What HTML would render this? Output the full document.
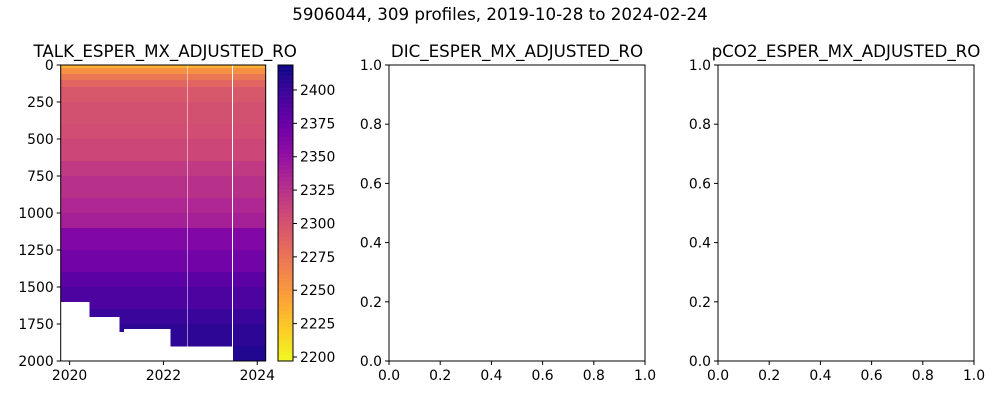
<!DOCTYPE html>
<html><head><meta charset="utf-8"><style>
body{margin:0;background:#fff;font-family:"Liberation Sans","DejaVu Sans",sans-serif}
svg text{font-family:"DejaVu Sans","Liberation Sans",sans-serif}
</style></head><body>
<svg id="fig" width="1000" height="400" xmlns="http://www.w3.org/2000/svg">
<rect width="1000" height="400" fill="#fff"/>
<text x="500" y="20" font-size="16.7" text-anchor="middle">5906044, 309 profiles, 2019-10-28 to 2024-02-24</text>
<g id="p1"></g>
<g id="cb"></g>
<g id="p2"></g>
<g id="p3"></g>
</svg>
<script>
// depth levels (m) and TALK values
const depths=[0,20,60,100,150,250,400,500,650,750,900,1000,1100,1250,1400,1500,1650,1750,1900,2000];
const talk=[2235,2255,2272,2285,2295,2300,2303,2308,2318,2325,2332,2338,2360,2370,2382,2390,2400,2405,2410,2412];
// profile segments: start year, end year, bottom depth
const segStart=[2019.81,2020.42,2021.06,2021.15,2022.15,2022.515,2023.48];
const segEnd=[2020.42,2021.06,2021.15,2022.15,2022.49,2023.45,2024.18];
const segBottom=[1600,1700,1800,1780,1900,1900,2000];
const xTicks=[2020,2022,2024];
const yTicks=[0,250,500,750,1000,1250,1500,1750,2000];
const cbTicks=[2200,2225,2250,2275,2300,2325,2350,2375,2400];
const unitTicks=[0,0.2,0.4,0.6,0.8,1.0];

const NS="http://www.w3.org/2000/svg";
function mk(p,t,a,txt){const e=document.createElementNS(NS,t);for(const k in a)e.setAttribute(k,a[k]);if(txt!==undefined)e.textContent=txt;p.appendChild(e);return e;}
const plasma=["#0d0887","#41049d","#6a00a8","#8f0da4","#b12a90","#cc4778","#e16462","#f2844b","#fca636","#fcce25","#f0f921"];
function hex(h){return [1,3,5].map(i=>parseInt(h.substr(i,2),16));}
function cmap(v){const vmin=2197,vmax=2418.7;let t=1-(v-vmin)/(vmax-vmin);t=Math.max(0,Math.min(1,t));const f=t*10,i=Math.min(9,Math.floor(f)),r=f-i;const a=hex(plasma[i]),b=hex(plasma[i+1]);return `rgb(${a.map((c,k)=>Math.round(c+(b[k]-c)*r)).join(",")})`;}
const X0=60.7,X1=265.7,Y0=65,Y1=361;
const xs=y=>X0+(y-2019.81)*(X1-X0)/(2024.18-2019.81);
const ys=d=>Y0+d*(Y1-Y0)/2000;
const FS=13.9;

const p1=document.getElementById('p1');
segStart.forEach((s,i)=>{
  for(let k=0;k<depths.length-1;k++){
    if(depths[k]>=segBottom[i])break;
    const d1=Math.min(depths[k+1],segBottom[i]);
    const r=mk(p1,'rect',{x:xs(s),y:ys(depths[k]),width:Math.max(0.5,xs(segEnd[i])-xs(s)+0.4),height:ys(d1)-ys(depths[k])+0.4,fill:cmap(talk[k]),'shape-rendering':'crispEdges'});
    
    
  }
});
mk(p1,'rect',{x:X0,y:Y0,width:X1-X0,height:Y1-Y0,fill:'none',stroke:'#000','stroke-width':1});
mk(p1,'text',{x:(X0+X1)/2+2,y:57,'font-size':16.7,'text-anchor':'middle'},'TALK_ESPER_MX_ADJUSTED_RO');
xTicks.forEach(t=>{const x=xs(t);mk(p1,'line',{x1:x,x2:x,y1:Y1,y2:Y1+4,stroke:'#000'});const e=mk(p1,'text',{x:x,y:Y1+19,'font-size':FS,'text-anchor':'middle'},t);});
yTicks.forEach(t=>{const y=ys(t);mk(p1,'line',{x1:X0-4,x2:X0,y1:y,y2:y,stroke:'#000'});const e=mk(p1,'text',{x:X0-7,y:y+5,'font-size':FS,'text-anchor':'end'},t);});

// colorbar
const cb=document.getElementById('cb');
const CX=278,CW=15,cv=v=>Y1-(v-2197)*(Y1-Y0)/(2418.7-2197);
for(let v=2197;v<2418.7;v+=1){mk(cb,'rect',{x:CX,y:cv(v+1),width:CW,height:cv(v)-cv(v+1)+0.3,fill:cmap(v)});}
mk(cb,'rect',{x:CX,y:Y0,width:CW,height:Y1-Y0,fill:'none',stroke:'#000'});
cbTicks.forEach(t=>{const y=cv(t);mk(cb,'line',{x1:CX+CW,x2:CX+CW+4,y1:y,y2:y,stroke:'#000'});const e=mk(cb,'text',{x:CX+CW+7,y:y+5,'font-size':FS},t);});

function emptyPanel(id,x0,title){
  const g=document.getElementById(id),w=256;
  mk(g,'rect',{x:x0,y:Y0,width:w,height:Y1-Y0,fill:'#fff',stroke:'#000'});
  mk(g,'text',{x:x0+w/2,y:57,'font-size':16.7,'text-anchor':'middle'},title);
  unitTicks.forEach(t=>{const x=x0+t*w,y=Y1-t*(Y1-Y0);
    mk(g,'line',{x1:x,x2:x,y1:Y1,y2:Y1+4,stroke:'#000'});
    const a=mk(g,'text',{x:x,y:Y1+19,'font-size':FS,'text-anchor':'middle'},t.toFixed(1));
    
    mk(g,'line',{x1:x0-4,x2:x0,y1:y,y2:y,stroke:'#000'});
    const b=mk(g,'text',{x:x0-7,y:y+5,'font-size':FS,'text-anchor':'end'},t.toFixed(1));
    });
}
emptyPanel('p2',389,'DIC_ESPER_MX_ADJUSTED_RO');
emptyPanel('p3',718,'pCO2_ESPER_MX_ADJUSTED_RO');
</script>
</body></html>
